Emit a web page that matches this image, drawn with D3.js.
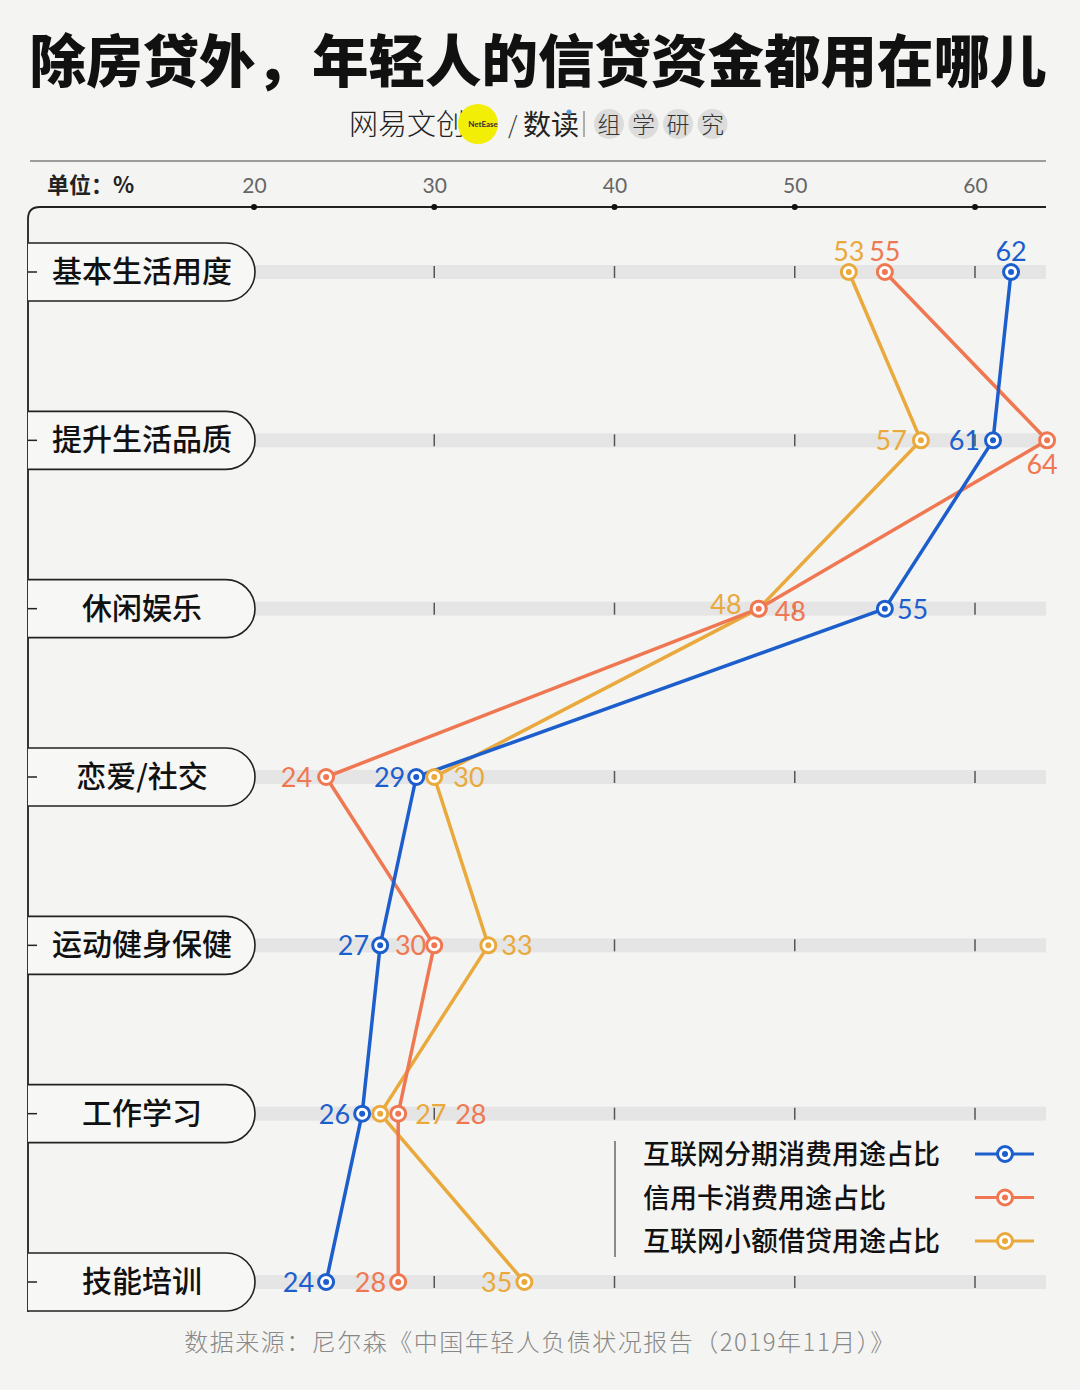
<!DOCTYPE html>
<meta charset="utf-8">
<script src="https://d3js.org/d3.v7.min.js"></script>
<style>
  body { margin: 0; background: #f4f4f2; }
  svg text { font-family: "Noto Sans CJK SC", "Noto Sans", sans-serif; }
</style>
<div id="my_dataviz"></div>
<script>

// categories (top to bottom)
var categories = ["基本生活用度", "提升生活品质", "休闲娱乐", "恋爱/社交", "运动健身保健", "工作学习", "技能培训"];

// series values, %
var installment = [62, 61, 55, 29, 27, 26, 24];   // 互联网分期消费用途占比
var creditCard  = [55, 64, 48, 24, 30, 28, 28];   // 信用卡消费用途占比
var microLoan   = [53, 57, 48, 30, 33, 27, 35];   // 互联网小额借贷用途占比

var seriesNames = ["互联网分期消费用途占比", "信用卡消费用途占比", "互联网小额借贷用途占比"];
var xTicks = [20, 30, 40, 50, 60];

// label placement for each point: [dx, dy, anchor]
var labelPlace = [
  [[0,-21,"middle"],[-13,0,"end"],[12,0,"start"],[-11,0,"end"],[-11,0,"end"],[-12,0,"end"],[-12,0,"end"]],
  [[0,-21,"middle"],[-5,24,"middle"],[16,2,"start"],[-14,0,"end"],[-8,0,"end"],[57,0,"start"],[-12,0,"end"]],
  [[0,-21,"middle"],[-14,0,"end"],[-17,-5,"end"],[19,0,"start"],[13,0,"start"],[35,0,"start"],[-12,0,"end"]]
];

var colors = ["#1d5ecd", "#ef7852", "#e9a93c"];
var W = 1080, H = 1390;

var svg = d3.select("#my_dataviz").append("svg")
  .attr("width", W).attr("height", H);

svg.append("rect").attr("width", W).attr("height", H).attr("fill", "#f4f4f2");

// title
svg.append("text")
  .attr("x", 538).attr("y", 82)
  .attr("text-anchor", "middle")
  .style("font-size", "56.5px").style("font-weight", 900)
  .attr("fill", "#111")
  .text("除房贷外，年轻人的信贷资金都用在哪儿");

// logo row
var logo = svg.append("g");
logo.append("text").attr("x", 349).attr("y", 135).style("font-size", "29px").style("font-weight", 300)
  .attr("fill", "#222").text("网易文创");
logo.append("circle").attr("cx", 478).attr("cy", 124).attr("r", 20).attr("fill", "#f2ee05");
logo.append("text").attr("x", 483).attr("y", 127).attr("text-anchor", "middle")
  .style("font-size", "8px").style("font-family", "Lato").style("font-weight", 700)
  .attr("fill", "#333").text("NetEase");
logo.append("text").attr("x", 508).attr("y", 134).style("font-size", "24px").style("font-weight", 300)
  .attr("fill", "#333").text("/");
logo.append("text").attr("x", 523).attr("y", 135).style("font-size", "28px").style("font-weight", 400)
  .attr("fill", "#222").text("数读");
logo.append("circle").attr("cx", 569).attr("cy", 112).attr("r", 2.5).attr("fill", "#5a9be0");
logo.append("line").attr("x1", 584).attr("x2", 584).attr("y1", 111).attr("y2", 137)
  .attr("stroke", "#666").attr("stroke-width", 1);
["组", "学", "研", "究"].forEach(function(c, i) {
  var cx = 609 + i * 34.5;
  logo.append("circle").attr("cx", cx).attr("cy", 124).attr("r", 15).attr("fill", "#dcdcdc");
  logo.append("text").attr("x", cx).attr("y", 133).attr("text-anchor", "middle")
    .style("font-size", "23px").style("font-weight", 300).attr("fill", "#333").text(c);
});

// separator line
svg.append("line").attr("x1", 30).attr("x2", 1046).attr("y1", 161).attr("y2", 161)
  .attr("stroke", "#444").attr("stroke-width", 1.2);

// scales
var x = d3.scaleLinear().domain([20, 60]).range([254, 975]);
var y = d3.scalePoint().domain(categories).range([272, 1282]);

// unit label + tick labels
svg.append("text").attr("x", 47).attr("y", 193)
  .style("font-size", "22px").style("font-weight", 700).attr("fill", "#222").text("单位：%");

var xAxis = svg.append("g").attr("transform", "translate(0,207)")
  .call(d3.axisTop(x).tickValues(xTicks).tickSize(0).tickPadding(14));
xAxis.select(".domain").remove();
xAxis.selectAll("text").style("font-size", "21px").style("font-family", "Lato")
  .attr("fill", "#666");

// top axis line + left frame with rounded corner
var r0 = 12;
svg.append("path")
  .attr("d", "M1046,207 H" + (28 + r0) + " Q28,207 28," + (207 + r0) + " V1312")
  .attr("fill", "none").attr("stroke", "#222").attr("stroke-width", 1.8);
svg.selectAll(".tdot").data(xTicks).enter().append("circle")
  .attr("cx", function(d) { return x(d); }).attr("cy", 207).attr("r", 3).attr("fill", "#111");

// grey bands per category
svg.selectAll(".band").data(categories).enter().append("rect")
  .attr("x", 255).attr("width", 1046 - 255)
  .attr("y", function(d) { return y(d) - 7; }).attr("height", 14)
  .attr("fill", "#e5e5e5");

// inner ticks
categories.forEach(function(c) {
  svg.selectAll(null).data(xTicks.slice(1)).enter().append("line")
    .attr("x1", function(d) { return x(d); }).attr("x2", function(d) { return x(d); })
    .attr("y1", y(c) - 6).attr("y2", y(c) + 6)
    .attr("stroke", "#555").attr("stroke-width", 1.5);
});

// category pills
var pr = 29;
var pill = svg.selectAll(".pill").data(categories).enter().append("g");
pill.append("path")
  .attr("d", function(d) {
    var t = y(d) - pr, b = y(d) + pr;
    return "M28," + t + " H" + (255 - pr) + " A" + pr + "," + pr + " 0 0 1 " + (255 - pr) + "," + b + " H28";
  })
  .attr("fill", "#f7f7f5").attr("stroke", "#222").attr("stroke-width", 1.6);
pill.append("line").attr("x1", 28).attr("x2", 37)
  .attr("y1", function(d) { return y(d); }).attr("y2", function(d) { return y(d); })
  .attr("stroke", "#222").attr("stroke-width", 1.5);
pill.append("text").attr("x", 142).attr("y", function(d) { return y(d) + 10; })
  .attr("text-anchor", "middle")
  .style("font-size", "30px").style("font-weight", 500).attr("fill", "#111")
  .text(function(d) { return d; });

// series lines
var allSeries = [installment, creditCard, microLoan];
var line = d3.line()
  .x(function(d) { return x(d.v); })
  .y(function(d) { return y(d.c); });

var drawOrder = [2, 1, 0];
drawOrder.forEach(function(si) {
  var pts = allSeries[si].map(function(v, i) { return {v: v, c: categories[i]}; });
  svg.append("path").datum(pts)
    .attr("d", line)
    .attr("fill", "none").attr("stroke", colors[si]).attr("stroke-width", 3.5)
    .attr("stroke-linejoin", "round");
});

drawOrder.forEach(function(si) {
  var pts = allSeries[si].map(function(v, i) { return {v: v, c: categories[i], i: i}; });
  var g = svg.append("g");
  g.selectAll("circle.o").data(pts).enter().append("circle")
    .attr("cx", function(d) { return x(d.v); }).attr("cy", function(d) { return y(d.c); })
    .attr("r", 7.5).attr("fill", "#fff").attr("stroke", colors[si]).attr("stroke-width", 3);
  g.selectAll("circle.i").data(pts).enter().append("circle")
    .attr("cx", function(d) { return x(d.v); }).attr("cy", function(d) { return y(d.c); })
    .attr("r", 3).attr("fill", colors[si]);
  g.selectAll("text").data(pts).enter().append("text")
    .attr("x", function(d) { return x(d.v) + labelPlace[si][d.i][0]; })
    .attr("y", function(d) { return y(d.c) + labelPlace[si][d.i][1] + 10; })
    .attr("text-anchor", function(d) { return labelPlace[si][d.i][2]; })
    .style("font-family", "Lato").style("font-size", "27px")
    .attr("fill", colors[si])
    .text(function(d) { return d.v; });
});

// legend
svg.append("line").attr("x1", 615).attr("x2", 615).attr("y1", 1141).attr("y2", 1257)
  .attr("stroke", "#444").attr("stroke-width", 1.2);
var leg = svg.selectAll(".leg").data(seriesNames).enter().append("g")
  .attr("transform", function(d, i) { return "translate(0," + (1154 + i * 43.5) + ")"; });
leg.append("text").attr("x", 643).attr("y", 10)
  .style("font-size", "27px").style("font-weight", 500).attr("fill", "#111")
  .text(function(d) { return d; });
leg.append("line").attr("x1", 975).attr("x2", 1034).attr("y1", 0).attr("y2", 0)
  .attr("stroke", function(d, i) { return colors[i]; }).attr("stroke-width", 3);
leg.append("circle").attr("cx", 1005).attr("cy", 0).attr("r", 7.5).attr("fill", "#fff")
  .attr("stroke", function(d, i) { return colors[i]; }).attr("stroke-width", 3);
leg.append("circle").attr("cx", 1005).attr("cy", 0).attr("r", 3)
  .attr("fill", function(d, i) { return colors[i]; });

// source
svg.append("text").attr("x", 540).attr("y", 1351).attr("text-anchor", "middle")
  .style("font-size", "24px").style("font-weight", 300).style("letter-spacing", "1.5px")
  .attr("fill", "#888")
  .text("数据来源：尼尔森《中国年轻人负债状况报告（2019年11月）》");

</script>
